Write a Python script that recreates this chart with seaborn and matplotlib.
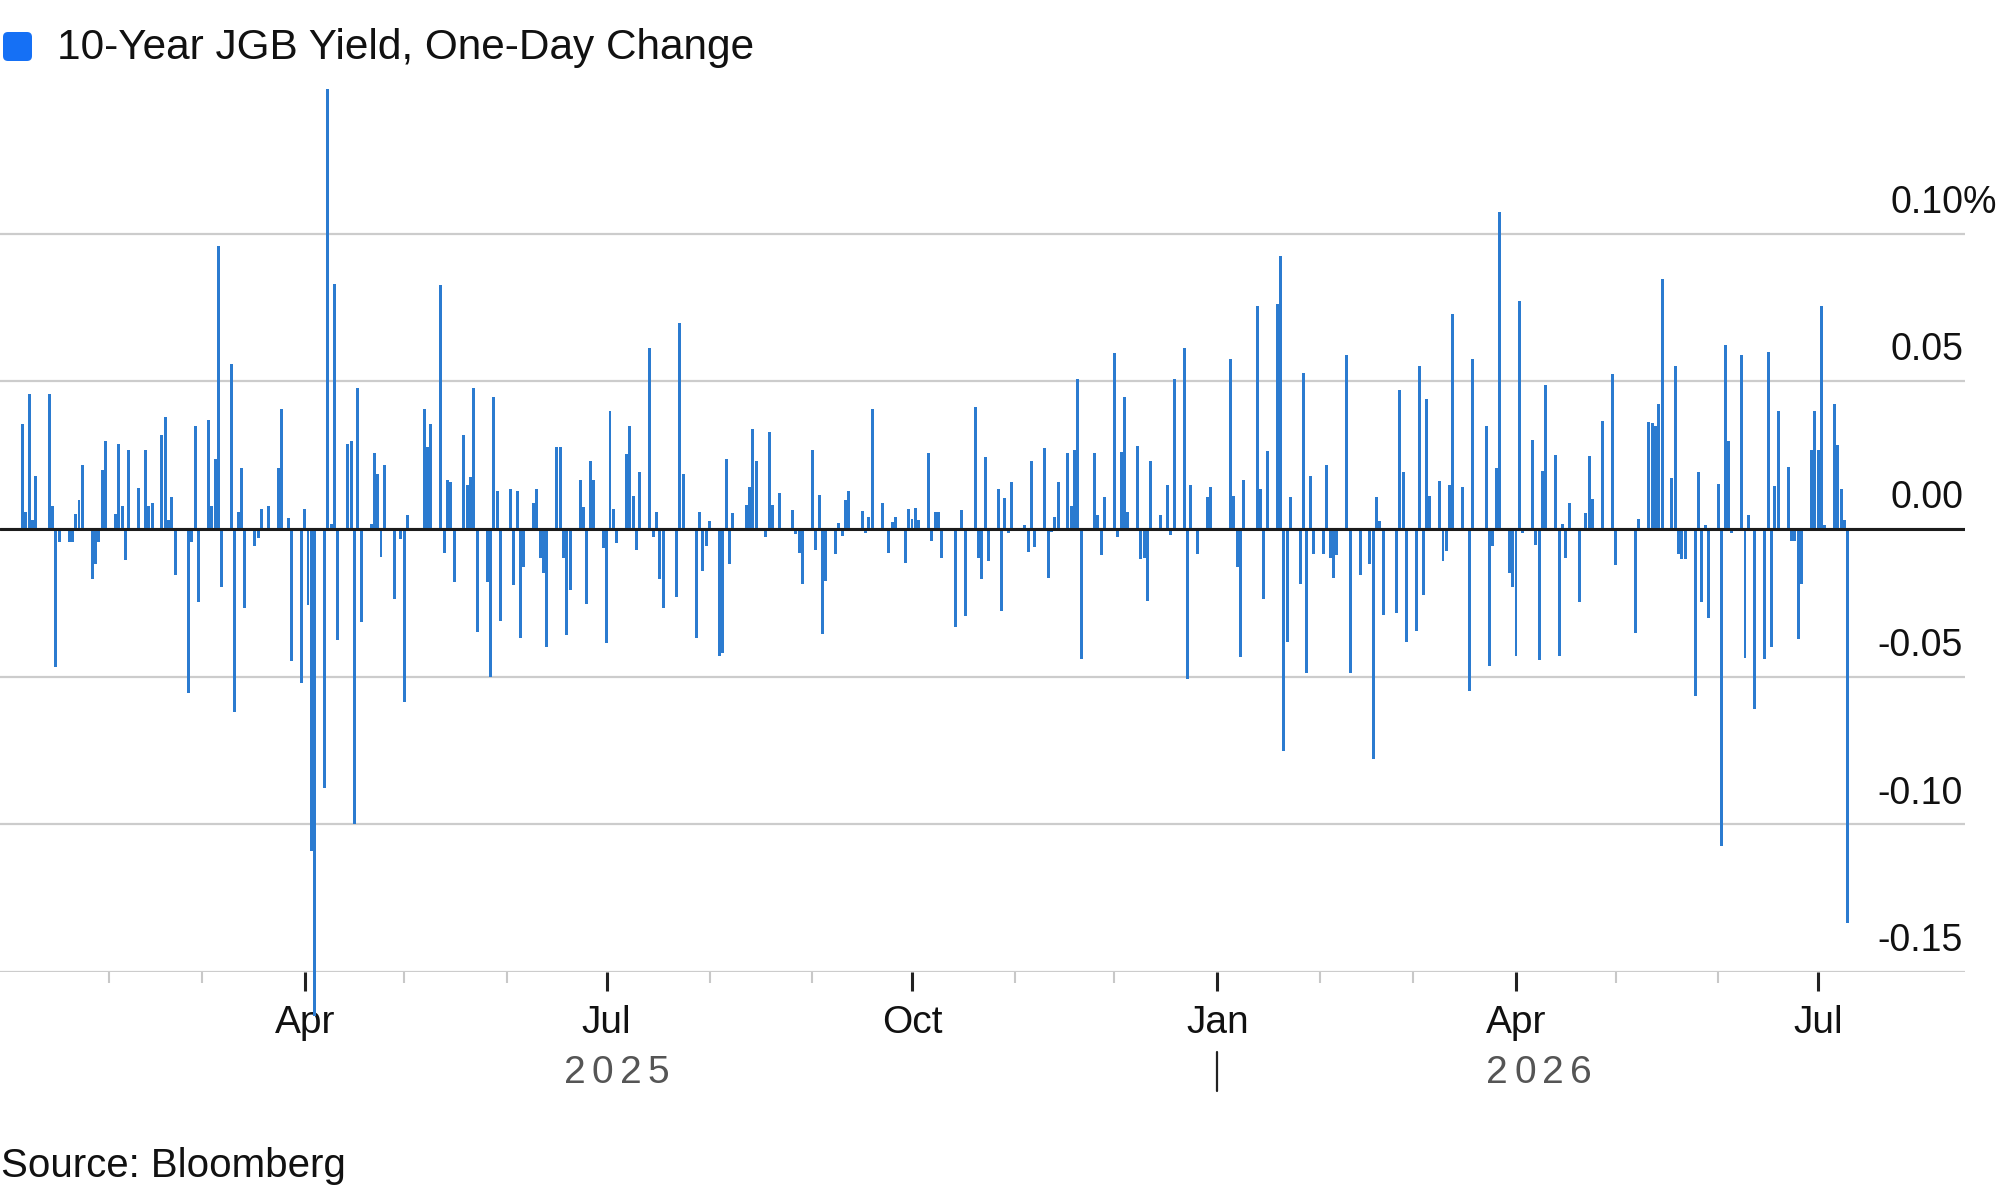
import numpy as np
import pandas as pd
import seaborn as sns
import matplotlib.pyplot as plt
import matplotlib.dates as mdates
from matplotlib.ticker import FixedLocator
from matplotlib.patches import FancyBboxPatch
from matplotlib.transforms import IdentityTransform, blended_transform_factory

# 10-year JGB yield, one-day change (percentage points), one list per month,
# one value per Tokyo trading day
jan_2025 = [0.0356, 0.0057, 0.0458, 0.003, 0.018, 0.0458, 0.0078, -0.0468, -0.0045, -0.0045,
            -0.0045, 0.005, 0.0098, 0.0217, -0.0168, -0.0117, -0.0045, 0.02, 0.0299]
feb_2025 = [0.005, 0.0288, 0.0078, -0.0106, 0.0268, 0.0139, 0.0268, 0.0078, 0.0088, 0.0319,
            0.038, 0.003, 0.0108, -0.0157, -0.0556, -0.0045, 0.035, -0.0247]
mar_2025 = [0.037, 0.0078, 0.0237, 0.0957, -0.0198, 0.0558, -0.0618, 0.0057, 0.0207, -0.0268,
            -0.0059, -0.0029, 0.0067, 0.0078, 0.0207, 0.0407, -0.0004, 0.0037, -0.0448, -0.052]
apr_2025 = [0.0067, -0.0258, -0.109, -0.165, -0.0877, 0.149, 0.0016, 0.083, -0.0376, 0.0288,
            0.0299, -0.10, 0.0479, -0.0315, 0.0016, 0.0258, 0.0186, -0.0096, 0.0217, -0.0237,
            -0.0035]
may_2025 = [-0.0587, 0.0047, 0.0405, 0.0278, 0.0356, 0.0827, -0.0081, 0.0167, 0.0158, -0.018,
            0.0317, 0.0148, 0.0176, 0.0479, -0.0349, -0.018, -0.05, 0.0447, 0.0127, -0.031]
jun_2025 = [0.0137, -0.019, 0.0127, -0.037, -0.013, 0.0088, 0.0137, -0.0099, -0.015, -0.0398,
            0.0278, 0.0278, -0.0099, -0.0359, -0.0208, 0.0167, 0.0074, -0.0254, 0.0229, 0.0167,
            -0.0065]
jul_2025 = [-0.0387, 0.0401, 0.0067, -0.0049, 0.0254, 0.0349, 0.0113, -0.007, 0.0194, 0.0613,
            -0.0028, 0.0056, -0.0169, -0.0268, -0.0229, 0.0699, 0.0185, 0.0, -0.037, 0.0056,
            -0.0141, -0.0056]
aug_2025 = [0.0026, -0.043, -0.0419, 0.0236, -0.012, 0.0053, 0.0081, 0.0141, 0.0338, 0.0229,
            -0.0028, 0.0327, 0.0081, 0.0, 0.0123, 0.0, 0.0063, -0.0018, -0.0081, -0.0187]
sep_2025 = [0.0268, -0.007, 0.0116, -0.0356, -0.0176, -0.0085, 0.0021, -0.0025, 0.0099, 0.0127,
            0.0062, -0.0014, 0.0042, 0.0408, 0.0088, -0.0081, 0.0025, 0.0042, -0.0116, 0.0067]
oct_2025 = [0.0035, 0.007, 0.0032, 0.0257, -0.0039, 0.0056, 0.0056, -0.0099, -0.0331, 0.0,
            0.0063, -0.0296, 0.0412, -0.0099, -0.0169, 0.0243, -0.0109, 0.0137, -0.0278, 0.0106,
            -0.0014, 0.0158]
nov_2025 = [0.0014, -0.0077, 0.0229, -0.006, 0.0275, -0.0165, -0.001, 0.0042, 0.0158, 0.0257,
            0.0077, 0.0268, 0.0507, -0.044, 0.0257, 0.0049, -0.0088, 0.0109]
dec_2025 = [0.0595, -0.0028, 0.0261, 0.0447, 0.0056, 0.0282, -0.0102, -0.0099, -0.0243, 0.0229,
            0.0049, 0.0, 0.0148, -0.0021, 0.0507, 0.0613, -0.0507, 0.0148, 0.0005, -0.0085,
            0.0109, 0.0141]
jan_2026 = [0.0577, 0.0113, -0.0127, -0.0433, 0.0167, 0.0754, 0.0137, -0.0236, 0.0264, 0.0761,
            0.0923, -0.075, -0.0384, 0.0109, -0.0187, 0.0528, -0.0486, 0.018, -0.0085]
feb_2026 = [-0.0085, 0.0218, -0.0099, -0.0165, -0.0088, 0.0588, -0.0486, 0.0, -0.0155, -0.012,
            -0.0778, 0.0109, 0.0026, -0.029, -0.0285, 0.0472, 0.0194, -0.0384]
mar_2026 = [-0.0345, 0.0553, -0.0225, 0.044, 0.0113, 0.0162, -0.0109, -0.0074, 0.0148, 0.0729,
            0.0141, 0.0, -0.0549, 0.0577, 0.0349, -0.0465, -0.0056, 0.0208, 0.1074, -0.015,
            -0.0197]
apr_2026 = [-0.043, 0.0771, -0.0014, 0.0303, -0.0053, -0.0444, 0.0197, 0.0489, 0.025, -0.043,
            0.0018, -0.0099, 0.0088, -0.0246, 0.0, 0.0053, 0.0246, 0.0102, 0.0366, 0.0, 0.0525]
may_2026 = [-0.0123, -0.0352, 0.0035, 0.0363, 0.0359, 0.0349, 0.0423, 0.0845, 0.0173, 0.0553,
            -0.0085, -0.0102, -0.0102, -0.0567, 0.0194, -0.0246, 0.0014, -0.0303]
jun_2026 = [0.0151, -0.1074, 0.0623, 0.0299, -0.0014, 0.0588, -0.0437, 0.0049, 0.0, -0.0609,
            -0.044, 0.0599, -0.0401, 0.0144, 0.0401, 0.0211, -0.0039, -0.0039, -0.0373, -0.0187,
            0.0268, 0.0398]
jul_2026 = [0.0268, 0.0754, 0.0014, 0.0423, 0.0285, 0.0137, 0.0032, -0.1335]

months = pd.period_range("2025-01", "2026-07", freq="M")
monthly = [jan_2025, feb_2025, mar_2025, apr_2025, may_2025, jun_2025, jul_2025, aug_2025,
           sep_2025, oct_2025, nov_2025, dec_2025, jan_2026, feb_2026, mar_2026, apr_2026,
           may_2026, jun_2026, jul_2026]

# weekday market closures in Tokyo
holidays = pd.to_datetime([
    "2025-01-01", "2025-01-02", "2025-01-03", "2025-01-13", "2025-02-11", "2025-02-24",
    "2025-03-20", "2025-04-29", "2025-05-05", "2025-05-06", "2025-07-21", "2025-08-11",
    "2025-09-15", "2025-09-23", "2025-10-13", "2025-11-03", "2025-11-24", "2025-12-31",
    "2026-01-01", "2026-01-02", "2026-01-12", "2026-02-11", "2026-02-23", "2026-03-20",
    "2026-04-29", "2026-05-04", "2026-05-05", "2026-05-06",
])

ytick_values = [0.10, 0.05, 0.0, -0.05, -0.10, -0.15]
ytick_labels = ["0.10", "0.05", "0.00", "-0.05", "-0.10", "-0.15"]
major_months = pd.to_datetime(["2025-04-01", "2025-07-01", "2025-10-01",
                               "2026-01-01", "2026-04-01", "2026-07-01"])
year_labels = ["2025", "2026"]

rows = []
for month, vals in zip(months, monthly):
    days = pd.bdate_range(month.start_time, month.end_time.normalize())
    days = days[~days.isin(holidays)]
    if len(days) < len(vals):
        print("too many values for", month, len(vals), len(days))
    rows += list(zip(days[:len(vals)], vals))
df = pd.DataFrame(rows, columns=["date", "change"])
df["x"] = mdates.date2num(df["date"])
print(df.shape)

sns.set_theme(style="white")
plt.rcParams["font.family"] = ["Liberation Sans", "DejaVu Sans"]

W, H = 2000, 1190
fig = plt.figure(figsize=(W / 100, H / 100), dpi=100)
ax = fig.add_axes([0, 1 - 972 / H, 1965 / W, (972 - 86) / H])

sns.barplot(data=df, x="x", y="change", native_scale=True, orient="x", width=0.9,
            color="#2b7bd0", saturation=1, errorbar=None, linewidth=0, ax=ax, zorder=2)
for p in ax.patches:
    p.set_clip_on(False)

ax.set_ylim(-0.15, 0.15)
ax.set_xlim(mdates.date2num(pd.Timestamp("2024-12-30 04:40")),
            mdates.date2num(pd.Timestamp("2026-08-14 07:00")))

ax.set_yticks(ytick_values)
ax.yaxis.grid(True, color="#cccccc", lw=1.6)
ax.xaxis.grid(False)
ax.set_axisbelow(True)
ax.tick_params(axis="y", left=False, labelleft=False)
ax.axhline(0, color="#1c1c1c", lw=2.2, zorder=4)

minor_months = pd.date_range("2025-02-01", "2026-06-01", freq="MS").difference(major_months)
ax.xaxis.set_major_locator(FixedLocator(mdates.date2num(major_months)))
ax.xaxis.set_minor_locator(FixedLocator(mdates.date2num(minor_months)))
ax.xaxis.set_major_formatter(mdates.DateFormatter("%b"))
ax.tick_params(axis="x", which="major", bottom=True, length=13.5, width=2.2, color="#222222",
               labelsize=28, labelcolor="#111111", pad=10)
ax.tick_params(axis="x", which="minor", bottom=True, length=8, width=1.5, color="#c8c8c8")
ax.set_xlabel("")
ax.set_ylabel("")
sns.despine(ax=ax, left=True, bottom=True)

# y labels sit above their gridlines at the right edge
ytrans = blended_transform_factory(fig.transFigure, ax.transData)
for v, lab in zip(ytick_values, ytick_labels):
    ax.annotate(lab, xy=(1963 / W, v), xycoords=ytrans, xytext=(0, 15),
                textcoords="offset points", ha="right", va="baseline",
                fontsize=27, color="#111111", annotation_clip=False)
ax.annotate("%", xy=(1963 / W, ytick_values[0]), xycoords=ytrans, xytext=(0, 15),
            textcoords="offset points", ha="left", va="baseline",
            fontsize=27, color="#111111", annotation_clip=False)

# year labels centred under each year's data, letter spaced
xtrans = blended_transform_factory(ax.transData, fig.transFigure)
years = df["date"].dt.year.astype(str)
for year in year_labels:
    xs = df.loc[years == year, "x"]
    xc = (xs.min() + xs.max()) / 2
    for i, ch in enumerate(year):
        ax.annotate(ch, xy=(xc, 1 - 1083 / H), xycoords=xtrans,
                    xytext=((i - (len(year) - 1) / 2) * 20.2, 0), textcoords="offset points",
                    ha="center", va="baseline", fontsize=28, color="#555555",
                    annotation_clip=False)
jan_26 = mdates.date2num(pd.Timestamp("2026-01-01"))
ax.plot([jan_26, jan_26], [1 - 1052 / H, 1 - 1091 / H], transform=xtrans,
        color="#222222", lw=1.6, clip_on=False)

# legend swatch and title
fig.add_artist(FancyBboxPatch((3, H - 61), 29, 29, boxstyle="round,pad=0,rounding_size=5",
                              transform=IdentityTransform(), facecolor="#1570f5",
                              edgecolor="none"))
fig.text(57 / W, 1 - 59.5 / H, "10-Year JGB Yield, One-Day Change", fontsize=30.5,
         color="#111111", ha="left", va="baseline")
fig.text(1 / W, 1 - 1177 / H, "Source: Bloomberg", fontsize=29,
         color="#111111", ha="left", va="baseline")

fig.savefig("out.png", dpi=100, facecolor="white")
